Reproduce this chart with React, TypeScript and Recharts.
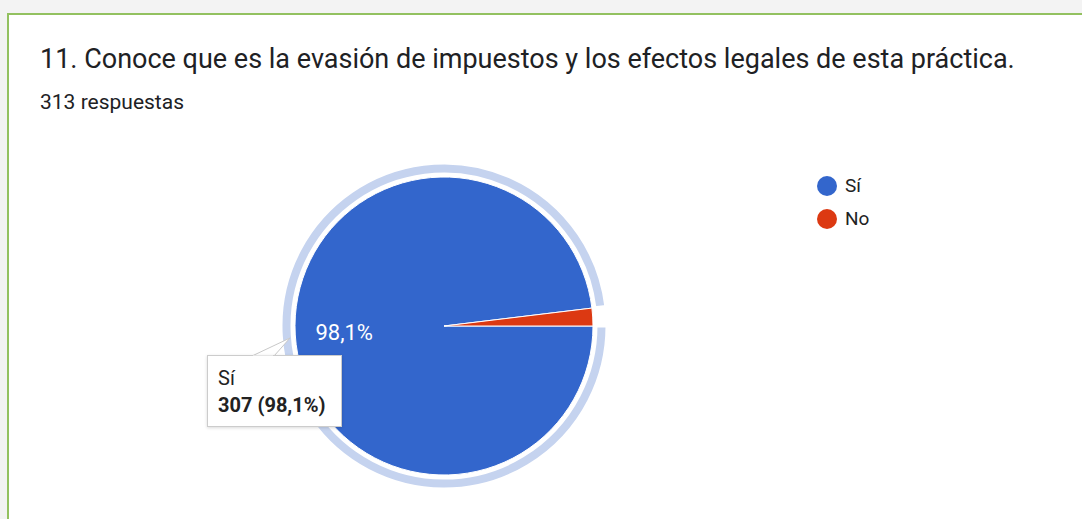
import React from "react";
import { PieChart, Pie, Cell } from "recharts";

const answers = ["Sí", "No"];
const counts = [307, 6];
const colors = ["#3366cc", "#dc3912"];
const ringColor = "#c5d3ef";

const title = "11. Conoce que es la evasión de impuestos y los efectos legales de esta práctica.";
const total = counts.reduce((a, b) => a + b, 0);

const data = answers.map((name, i) => ({ name, value: counts[i] }));

const fmtPct = (p: number) => (p * 100).toFixed(1).replace(".", ",") + "%";

const RAD = Math.PI / 180;

function renderLabel(props: any) {
  const { cx, cy, midAngle, percent, index } = props;
  if (index !== 0) return null;
  const r = 100;
  const x = cx + r * Math.cos(-midAngle * RAD);
  const y = cy + r * Math.sin(-midAngle * RAD);
  return (
    <text
      x={x}
      y={y}
      fill="#ffffff"
      textAnchor="middle"
      dominantBaseline="central"
      fontFamily="Roboto"
      fontSize={22}
    >
      {fmtPct(percent)}
    </text>
  );
}

export default function App() {
  const tip = data[0];
  return (
    <div style={{ position: "fixed", left: 0, top: 0, width: 1082, height: 519, background: "#f3f3f3", overflow: "hidden" }}>
      <div
        style={{
          position: "absolute",
          left: 7,
          top: 13,
          width: 1100,
          height: 540,
          background: "#ffffff",
          border: "2px solid #93c160",
          boxSizing: "border-box",
        }}
      />
      <div style={{ position: "absolute", left: 40, top: 43, fontFamily: "Roboto", fontSize: 27, color: "#202124", whiteSpace: "nowrap" }}>
        {title}
      </div>
      <div style={{ position: "absolute", left: 40, top: 90, fontFamily: "Roboto", fontSize: 21, color: "#202124" }}>
        {total} respuestas
      </div>
      <div style={{ position: "absolute", left: 0, top: 0 }}>
        <PieChart width={1082} height={519} margin={{ top: 0, right: 0, bottom: 0, left: 0 }}>
          <Pie
            data={data}
            dataKey="value"
            nameKey="name"
            cx={444}
            cy={326}
            innerRadius={152}
            outerRadius={163}
            startAngle={0}
            endAngle={-360}
            stroke="#ffffff"
            strokeWidth={3}
            isAnimationActive={false}
            legendType="none"
          >
            {data.map((d, i) => (
              <Cell key={i} fill={i === 0 ? ringColor : "none"} stroke={i === 0 ? "#ffffff" : "none"} />
            ))}
          </Pie>
          <Pie
            data={data}
            dataKey="value"
            nameKey="name"
            cx={444}
            cy={326}
            outerRadius={149}
            startAngle={0}
            endAngle={-360}
            stroke="#ffffff"
            strokeWidth={1}
            label={renderLabel}
            labelLine={false}
            isAnimationActive={false}
          >
            {data.map((d, i) => (
              <Cell key={i} fill={colors[i]} />
            ))}
          </Pie>
        </PieChart>
      </div>
      <div style={{ position: "absolute", left: 817, top: 169 }}>
        {data.map((d, i) => (
          <div
            key={i}
            style={{ display: "flex", alignItems: "center", height: 33, fontFamily: "Roboto", fontSize: 19, color: "#222" }}
          >
            <svg width={20} height={20} style={{ marginRight: 8 }}>
              <circle cx={10} cy={10} r={10} fill={colors[i]} />
            </svg>
            <span>{d.name}</span>
          </div>
        ))}
      </div>
      <svg style={{ position: "absolute", left: 0, top: 0 }} width={1082} height={519}>
        <polygon points="252,356 290,338 274,356" fill="#ffffff" stroke="#c8c8c8" strokeWidth={1} />
      </svg>
      <div
        style={{
          position: "absolute",
          left: 207,
          top: 355,
          width: 135,
          height: 72,
          boxSizing: "border-box",
          background: "#ffffff",
          border: "1px solid #cccccc",
          boxShadow: "0 1px 3px rgba(0,0,0,0.15)",
          padding: "9px 10px",
          fontFamily: "Roboto",
          fontSize: 20,
          color: "#222",
          lineHeight: "27px",
        }}
      >
        <div>{tip.name}</div>
        <div style={{ fontWeight: "bold" }}>
          {tip.value} ({fmtPct(tip.value / total)})
        </div>
      </div>
      <svg style={{ position: "absolute", left: 0, top: 0 }} width={1082} height={519}>
        <line x1={253} y1={356.5} x2={273} y2={356.5} stroke="#ffffff" strokeWidth={2} />
      </svg>
    </div>
  );
}
